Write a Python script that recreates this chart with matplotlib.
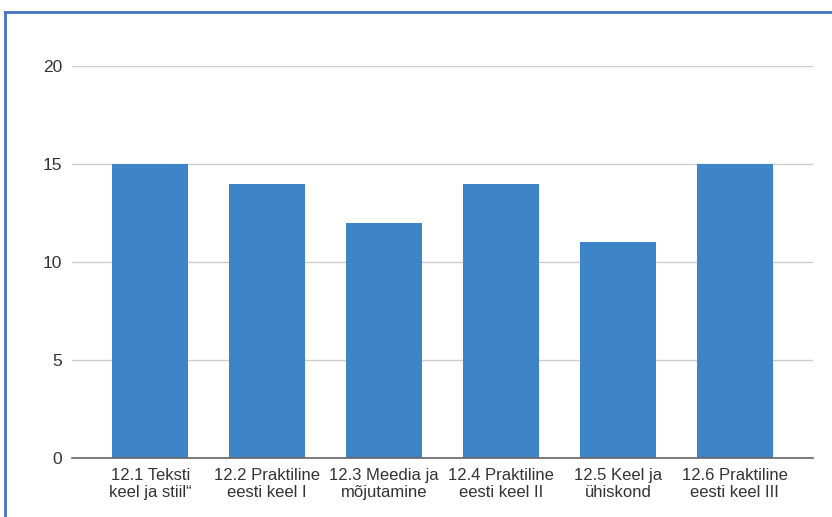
import matplotlib
matplotlib.use("Agg")
import matplotlib.pyplot as plt
from matplotlib.lines import Line2D

categories = ["12.1 Teksti\nkeel ja stiil\u201c", "12.2 Praktiline\neesti keel I",
              "12.3 Meedia ja\nmõjutamine", "12.4 Praktiline\neesti keel II",
              "12.5 Keel ja\nühiskond", "12.6 Praktiline\neesti keel III"]
values = [15, 14, 12, 14, 11, 15]
yticks = [0, 5, 10, 15, 20]

plt.rcParams['font.family'] = ['Liberation Sans', 'DejaVu Sans']

W, H = 832, 517
fig = plt.figure(figsize=(W/100, H/100), dpi=100)
ax = fig.add_axes([72/W, 1-458/H, (813-72)/W, (458-66)/H])

x = list(range(len(categories)))
ax.bar(x, values, width=0.65, color="#3D85C6", zorder=3)
ax.set_xlim(-0.67, 5.67)
ax.set_ylim(0, 20)
ax.set_yticks(yticks)
ax.set_yticklabels([str(v) for v in yticks], fontsize=12.5, color="#333333")
ax.set_xticks(x)
ax.set_xticklabels(categories, fontsize=12, color="#333333", linespacing=1.2)
ax.tick_params(axis='both', length=0)
ax.tick_params(axis='y', pad=7)
ax.tick_params(axis='x', pad=7)
ax.grid(axis='y', color="#CCCCCC", linewidth=1, zorder=0)
for s in ["top", "right", "left"]:
    ax.spines[s].set_visible(False)
ax.spines["bottom"].set_color("#666666")
ax.spines["bottom"].set_linewidth(1.2)
ax.spines["bottom"].set_zorder(4)

# blue frame
fig.add_artist(Line2D([5/W, 1], [1-12/H, 1-12/H], color="#4472C4", linewidth=2, transform=fig.transFigure))
fig.add_artist(Line2D([5/W, 5/W], [0, 1-12/H], color="#4472C4", linewidth=2, transform=fig.transFigure))

fig.savefig("out.png", dpi=100)
